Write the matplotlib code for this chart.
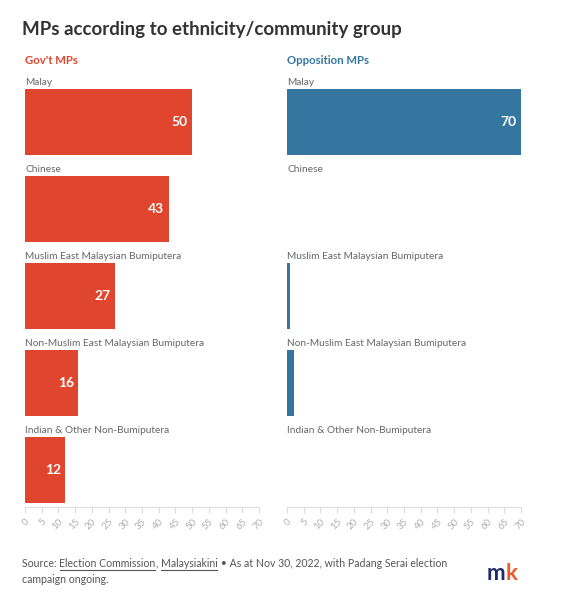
"""MPs by ethnicity/community group, govt vs opposition."""

import matplotlib.pyplot as plt
import numpy as np

groups = [
    "Malay",
    "Chinese",
    "Muslim East Malaysian Bumiputera",
    "Non-Muslim East Malaysian Bumiputera",
    "Indian & Other Non-Bumiputera",
]
govt_mps = [50, 43, 27, 16, 12]
opposition_mps = [70, 0, 1, 2, 0]
panel_titles = ["Gov't MPs", "Opposition MPs"]
ticks = list(range(0, 71, 5))

RED = "#e0462e"
BLUE = "#3476a0"
W, H = 564, 602

plt.rcParams["font.family"] = ["Lato", "DejaVu Sans"]
fig = plt.figure(figsize=(W / 100, H / 100), dpi=100)


def px(x, y):
    return x / W, 1 - y / H


fig.text(*px(22, 30), "MPs according to ethnicity/community group",
         fontsize=13.5, fontweight="bold", color="#333333", va="center")

y_top, y_bot = 78, 507
row_gap, first_center = 87, 122
ylim_top = -(first_center - y_top) / row_gap
ylim_bot = len(groups) - 1 + (y_bot - (first_center + row_gap * 4)) / row_gap
bar_h = 66 / row_gap

for left, values, color, title in [
    (25, govt_mps, RED, panel_titles[0]),
    (287, opposition_mps, BLUE, panel_titles[1]),
]:
    ax = fig.add_axes([left / W, 1 - y_bot / H, 234 / W, (y_bot - y_top) / H])
    fig.text(*px(left, 61), title, fontsize=8.2, fontweight="bold",
             color=color, va="center")
    y = np.arange(len(groups))
    ax.barh(y, values, height=bar_h, color=color)
    for yi, g, v in zip(y, groups, values):
        ax.text(0, yi - bar_h / 2 - 0.02, g, fontsize=7.3, color="#666666",
                va="bottom", ha="left")
        if v >= 5:
            ax.text(v - 1.3, yi, str(v), fontsize=10, fontweight="bold",
                    color="white", ha="right", va="center")
    ax.set_xlim(0, 70)
    ax.set_ylim(ylim_bot, ylim_top)
    ax.set_yticks([])
    ax.set_xticks(ticks)
    ax.set_xticklabels([str(t) for t in ticks], rotation=45, ha="right",
                       va="top", rotation_mode="anchor", fontsize=7,
                       color="#b0b0b0")
    ax.tick_params(axis="x", length=4, color="#dddddd", pad=3)
    for s in ["top", "left", "right"]:
        ax.spines[s].set_visible(False)
    ax.spines["bottom"].set_color("#dddddd")
    ax.spines["bottom"].set_linewidth(0.8)

# footer with underlined links
pieces = [
    ("Source: ", False),
    ("Election Commission", True),
    (", ", False),
    ("Malaysiakini", True),
    (" \u2022 As at Nov 30, 2022, with Padang Serai election", False),
]
renderer = fig.canvas.get_renderer()
x = 22
fy = 567
for txt, under in pieces:
    t = fig.text(*px(x, fy), txt, fontsize=7.6, color="#555555",
                 va="baseline")
    bb = t.get_window_extent(renderer)
    if under:
        fig.add_artist(plt.Line2D([(bb.x0 + 0.5) / W, (bb.x1 - 1) / W],
                                  [1 - (fy + 2.5) / H] * 2,
                                  color="#555555", lw=0.8))
    x += bb.width
fig.text(*px(22, 583), "campaign ongoing.", fontsize=7.6, color="#555555",
         va="baseline")

# logo
fig.text(*px(487, 580), "m", fontsize=16, fontweight="bold",
         color="#1f2a6b", va="baseline")
fig.text(*px(506, 580), "k", fontsize=16, fontweight="bold",
         color="#f05a28", va="baseline")

fig.savefig("out.png", dpi=100)
